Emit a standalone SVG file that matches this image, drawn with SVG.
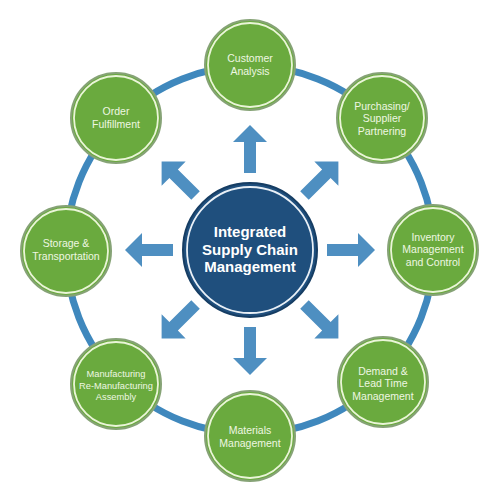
<svg xmlns="http://www.w3.org/2000/svg" xmlns:xlink="http://www.w3.org/1999/xlink" width="500" height="496" viewBox="0 0 500 496">
<style>
.ring{fill:none;stroke:#3f88bd;stroke-width:7}
.arrow{fill:#4e8fc1}
.nodeOuter{fill:#6aaa3e;stroke:#86a376;stroke-width:2}
.nodeInner{fill:none;stroke:#eaf5d8;stroke-width:1.8}
.ntext{font-family:"Liberation Sans",Arial,sans-serif;font-size:10.5px;fill:#eef7e2;text-anchor:middle}
.small{font-size:9.3px}
.ctext{font-family:"Liberation Sans",Arial,sans-serif;font-size:15px;font-weight:bold;fill:#ffffff;text-anchor:middle}
</style>
<defs>
<path id="arr" d="M77,-6 L108,-6 L108,-17 L125,0 L108,17 L108,6 L77,6 Z"/>
</defs>
<rect width="500" height="496" fill="#ffffff"/>
<g id="connectors">
<circle class="ring" cx="250" cy="250" r="184"/>
<use xlink:href="#arr" class="arrow" transform="translate(250,250) rotate(-90)"/>
<use xlink:href="#arr" class="arrow" transform="translate(250,250) rotate(-45)"/>
<use xlink:href="#arr" class="arrow" transform="translate(250,250) rotate(0)"/>
<use xlink:href="#arr" class="arrow" transform="translate(250,250) rotate(45)"/>
<use xlink:href="#arr" class="arrow" transform="translate(250,250) rotate(90)"/>
<use xlink:href="#arr" class="arrow" transform="translate(250,250) rotate(135)"/>
<use xlink:href="#arr" class="arrow" transform="translate(250,250) rotate(180)"/>
<use xlink:href="#arr" class="arrow" transform="translate(250,250) rotate(-135)"/>
</g>
<g id="center">
<circle cx="250" cy="250" r="67" fill="#1f4f7d" stroke="#163d63" stroke-width="2"/>
<circle cx="250" cy="250" r="63" fill="none" stroke="#e9f0f7" stroke-width="1.8"/>
<text class="ctext" x="250" y="237">Integrated</text>
<text class="ctext" x="250" y="254.5">Supply Chain</text>
<text class="ctext" x="250" y="272">Management</text>
</g>
<g id="customer-analysis">
<circle class="nodeOuter" cx="250" cy="65" r="45"/>
<circle class="nodeInner" cx="250" cy="65" r="42"/>
<text class="ntext" x="250" y="62">Customer</text>
<text class="ntext" x="250" y="75">Analysis</text>
</g>
<g id="purchasing">
<circle class="nodeOuter" cx="382" cy="118" r="45"/>
<circle class="nodeInner" cx="382" cy="118" r="42"/>
<text class="ntext" x="382" y="109.5">Purchasing/</text>
<text class="ntext" x="382" y="122">Supplier</text>
<text class="ntext" x="382" y="134.5">Partnering</text>
</g>
<g id="inventory">
<circle class="nodeOuter" cx="433" cy="250" r="45"/>
<circle class="nodeInner" cx="433" cy="250" r="42"/>
<text class="ntext" x="433" y="240.5">Inventory</text>
<text class="ntext" x="433" y="253">Management</text>
<text class="ntext" x="433" y="265.5">and Control</text>
</g>
<g id="demand">
<circle class="nodeOuter" cx="383" cy="382" r="45"/>
<circle class="nodeInner" cx="383" cy="382" r="42"/>
<text class="ntext" x="383" y="374.5">Demand &amp;</text>
<text class="ntext" x="383" y="387">Lead Time</text>
<text class="ntext" x="383" y="399.5">Management</text>
</g>
<g id="materials">
<circle class="nodeOuter" cx="250" cy="436" r="45"/>
<circle class="nodeInner" cx="250" cy="436" r="42"/>
<text class="ntext" x="250" y="434">Materials</text>
<text class="ntext" x="250" y="447">Management</text>
</g>
<g id="manufacturing">
<circle class="nodeOuter" cx="116" cy="384" r="45"/>
<circle class="nodeInner" cx="116" cy="384" r="42"/>
<text class="ntext small" x="116" y="377">Manufacturing</text>
<text class="ntext small" x="116" y="388.5">Re-Manufacturing</text>
<text class="ntext small" x="116" y="400">Assembly</text>
</g>
<g id="storage">
<circle class="nodeOuter" cx="66" cy="251" r="45"/>
<circle class="nodeInner" cx="66" cy="251" r="42"/>
<text class="ntext" x="66" y="247">Storage &amp;</text>
<text class="ntext" x="66" y="260">Transportation</text>
</g>
<g id="order-fulfillment">
<circle class="nodeOuter" cx="116" cy="118" r="45"/>
<circle class="nodeInner" cx="116" cy="118" r="42"/>
<text class="ntext" x="116" y="115">Order</text>
<text class="ntext" x="116" y="128">Fulfillment</text>
</g>
</svg>
